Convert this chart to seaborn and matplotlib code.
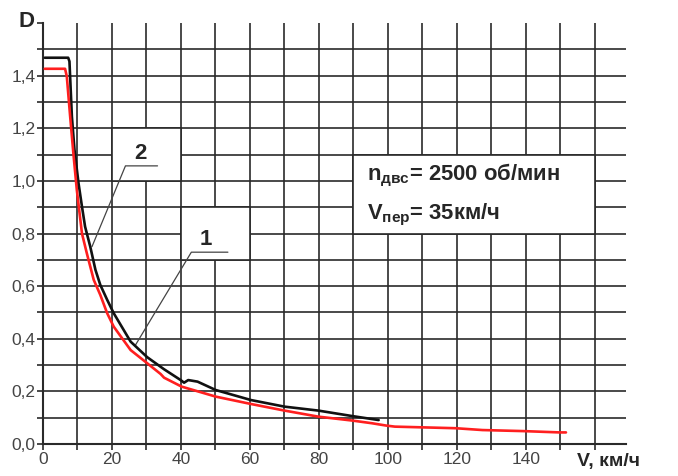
import numpy as np
import pandas as pd
import matplotlib
matplotlib.use('Agg')
import matplotlib.pyplot as plt
import seaborn as sns
from matplotlib.patches import Rectangle

# кривая 2 (черная)
v2 = [0.5, 7.3, 7.67, 8.37, 9.13, 10.3, 11.3, 12.2, 13.7, 15.2, 16.6, 18.6, 20.5,
      25.4, 30.2, 35.1, 39.9, 40.9, 42.1, 44.8, 50.1, 60.3, 70.0, 79.8, 89.7, 97.3]
d2 = [1.468, 1.468, 1.454, 1.245, 1.118, 0.991, 0.902, 0.826, 0.750, 0.662, 0.605, 0.548, 0.497,
      0.389, 0.330, 0.284, 0.243, 0.233, 0.243, 0.237, 0.205, 0.167, 0.142, 0.127, 0.106, 0.091]

# кривая 1 (красная)
v1 = [0.5, 6.4, 6.9, 7.87, 8.8, 9.8, 10.6, 11.3, 12.7, 14.7, 16.6, 18.6, 20.5, 25.4,
      30.2, 34.1, 35.1, 40.2, 50.1, 60.3, 70.0, 79.8, 89.7, 95.3, 99.5, 102.0,
      119.6, 127.4, 139.3, 149.8, 151.6]
d1 = [1.426, 1.426, 1.397, 1.245, 1.105, 0.966, 0.877, 0.800, 0.725, 0.624, 0.567, 0.497, 0.446, 0.357,
      0.307, 0.266, 0.252, 0.218, 0.180, 0.152, 0.127, 0.104, 0.089, 0.079, 0.070, 0.066,
      0.060, 0.053, 0.049, 0.044, 0.044]

x_ticks = np.arange(0, 161, 10)
x_labels = [str(int(t)) if (t % 20 == 0 and t <= 140) else '' for t in x_ticks]
y_ticks = np.round(np.arange(0, 1.61, 0.1), 1)
y_labels = [f'{t:.1f}'.replace('.', ',') if (round(t * 10) % 2 == 0 and t <= 1.4) else '' for t in y_ticks]

sns.set_style('white')
plt.rcParams['font.family'] = ['Liberation Sans', 'DejaVu Sans']
plt.rcParams['mathtext.fontset'] = 'custom'
plt.rcParams['mathtext.bf'] = 'Liberation Sans:bold'
plt.rcParams['mathtext.rm'] = 'Liberation Sans'

grid_c = '#2a2a2a'
grid_lw = 1.2

fig = plt.figure(figsize=(6.78, 4.76), dpi=100)
ax = fig.add_axes([43 / 678, 1 - 444 / 476, (626 - 43) / 678, (444 - 23) / 476])

# сетка
ax.vlines(x_ticks[1:], 0, 1.6, color=grid_c, lw=grid_lw, zorder=1)
ax.hlines(y_ticks[1:-1], 0, 169, color=grid_c, lw=grid_lw, zorder=1)

# белые поля под подписи
for (x0, y0, w, h) in [(20, 1.0, 20, 0.2), (40, 0.7, 20, 0.2), (90, 0.8, 70, 0.3)]:
    ax.add_patch(Rectangle((x0, y0), w, h, facecolor='white', edgecolor=grid_c,
                           lw=grid_lw, zorder=2))

df = pd.concat([
    pd.DataFrame({'V': v2, 'D': d2, 'curve': '2'}),
    pd.DataFrame({'V': v1, 'D': d1, 'curve': '1'}),
])
sns.lineplot(data=df, x='V', y='D', hue='curve', palette={'2': '#111111', '1': '#ff1f1f'},
             sort=False, estimator=None, lw=1.9, legend=False, ax=ax, zorder=4)

# выноски
ax.plot([14.2, 23.9, 33.2], [0.75, 1.057, 1.057], color='#444444', lw=0.9, zorder=3)
ax.text(28.3, 1.105, '2', fontsize=16, fontweight='bold', ha='center', va='center', zorder=5)
ax.plot([26.8, 43.0, 53.6], [0.376, 0.729, 0.729], color='#444444', lw=0.9, zorder=3)
ax.text(47.2, 0.776, '1', fontsize=16, fontweight='bold', ha='center', va='center', zorder=5)

ax.text(93.9, 1.0, r'n$_{\mathbf{двс}}$= 2500 об/мин', fontsize=15.8, fontweight='bold',
        ha='left', va='baseline', zorder=5)
ax.text(93.9, 0.852, r'V$_{\mathbf{пер}}$= 35км/ч', fontsize=15.8, fontweight='bold',
        ha='left', va='baseline', zorder=5)

ax.set_xlim(0, 169)
ax.set_ylim(0, 1.6)
ax.set_xticks(x_ticks)
ax.set_xticklabels(x_labels)
ax.set_yticks(y_ticks)
ax.set_yticklabels(y_labels)
ax.tick_params(axis='both', which='both', direction='out', length=4, width=grid_lw,
               color=grid_c, labelsize=12.5, labelcolor='#444444', pad=1.5,
               bottom=True, left=True)
ax.set_xlabel('')
ax.set_ylabel('')
for s in ['top', 'right']:
    ax.spines[s].set_visible(False)
for s in ['left', 'bottom']:
    ax.spines[s].set_color(grid_c)
    ax.spines[s].set_linewidth(1.5)

fig.text(18 / 678, 1 - 27 / 476, 'D', fontsize=16, fontweight='bold', ha='left', va='baseline')
fig.text(577 / 678, 1 - 466 / 476, 'V, км/ч', fontsize=14, fontweight='bold', ha='left', va='baseline')

fig.savefig('out.png', dpi=100)
